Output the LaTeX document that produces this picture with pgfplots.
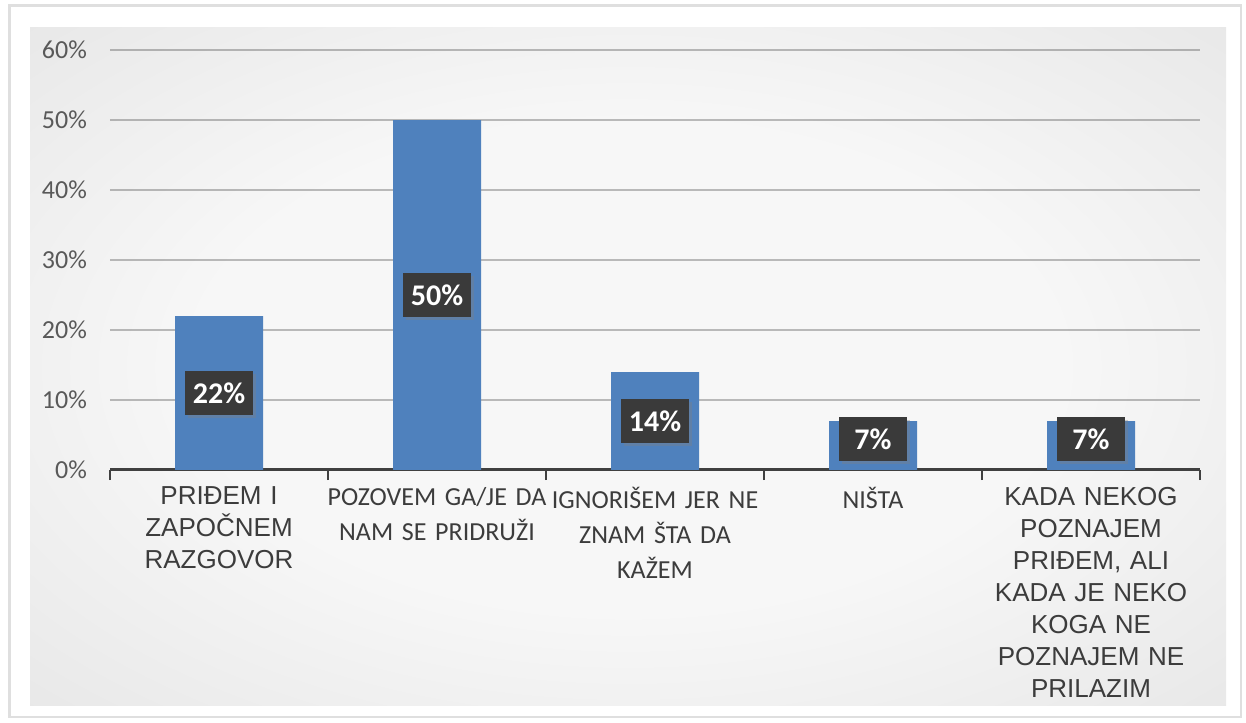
\documentclass[border=0pt]{standalone}
\usepackage{pgfplots}
\pgfplotsset{compat=1.18}
\usepackage{pgfplotstable}
\usepackage{fontspec}
\setmainfont{Carlito}
\newfontfamily\arial{Liberation Sans}
\usetikzlibrary{shadows}

\definecolor{barblue}{RGB}{79,129,189}
\definecolor{tickgray}{RGB}{89,89,89}
\definecolor{labgray}{RGB}{60,60,60}
\definecolor{boxgray}{RGB}{58,58,58}
\definecolor{bgc}{RGB}{247,247,247}
\definecolor{bge}{RGB}{220,220,220}
\definecolor{bgk}{RGB}{184,184,184}
\pgfdeclareradialshading{bgshade}{\pgfpoint{0bp}{0bp}}{color(0bp)=(bgc); color(18bp)=(bgc); color(50bp)=(bge); color(71bp)=(bgk)}

\newcommand\arlab[1]{{\arial\fontsize{13}{16}\selectfont #1\par}}

\pgfplotstableread{
x y pos
0 22 11
1 50 25
2 14 7
3 7 4.4
4 7 4.4
}\data

\begin{document}
\begin{tikzpicture}
\useasboundingbox (0pt,0pt) rectangle (623pt,361pt);
\fill[white] (0pt,0pt) rectangle (623pt,361pt);
\fill[gray!25] (4pt,2pt) rectangle (621pt,359pt);
\fill[white] (5.5pt,3pt) rectangle (620pt,357.5pt);
\shade[shading=bgshade] (15pt,8pt) rectangle (613pt,347pt);
\begin{axis}[
  at={(55pt,126pt)}, anchor=south west,
  scale only axis, width=545pt, height=210pt,
  xmin=-0.5, xmax=4.5, ymin=0, ymax=60,
  axis x line*=bottom, axis y line*=left,
  y axis line style={draw=none},
  x axis line style={black!75, line width=1.5pt},
  major tick length=0pt,
  ytick={0,10,...,60},
  yticklabel={\pgfmathprintnumber{\tick}\%},
  yticklabel style={text=tickgray, font=\fontsize{13}{15}\selectfont, xshift=-8pt},
  ymajorgrids, grid style={black, opacity=0.25, line width=0.9pt},
  /pgf/number format/assume math mode=true,
  xtick={0,1,2,3,4},
  xticklabels={
    {\arlab{PRIĐEM I\\ZAPOČNEM\\RAZGOVOR}},
    {POZOVEM GA/JE DA\\NAM SE PRIDRUŽI},
    {IGNORIŠEM JER NE\\ZNAM ŠTA DA\\KAŽEM},
    {NIŠTA},
    {\arlab{KADA NEKOG\\POZNAJEM\\PRIĐEM, ALI\\KADA JE NEKO\\KOGA NE\\POZNAJEM NE\\PRILAZIM}}
  },
  xticklabel style={text width=120pt, align=center, text=labgray,
    font=\fontsize{13}{17.5}\selectfont, anchor=north, yshift=-5pt},
  extra x ticks={-0.5,0.5,1.5,2.5,3.5,4.5},
  extra x tick labels={},
  extra x tick style={major tick length=5pt, tick align=outside,
    tick style={line width=1pt, black!75}},
  clip=false,
]
\addplot[ybar, bar width=44pt, fill=barblue, draw=none] table[x=x, y=y] {\data};
\addplot[draw=none, mark=none, point meta=explicit,
  nodes near coords={\pgfmathprintnumber{\pgfplotspointmeta}\%},
  every node near coord/.append style={anchor=center, fill=boxgray, text=white,
    font=\bfseries\fontsize{15}{17}\selectfont, minimum width=34pt, minimum height=22pt,
    inner sep=2pt, drop shadow={opacity=0.35, shadow xshift=1.5pt, shadow yshift=-1.5pt}}]
  table[x=x, y=pos, meta=y] {\data};
\end{axis}
\end{tikzpicture}
\end{document}
